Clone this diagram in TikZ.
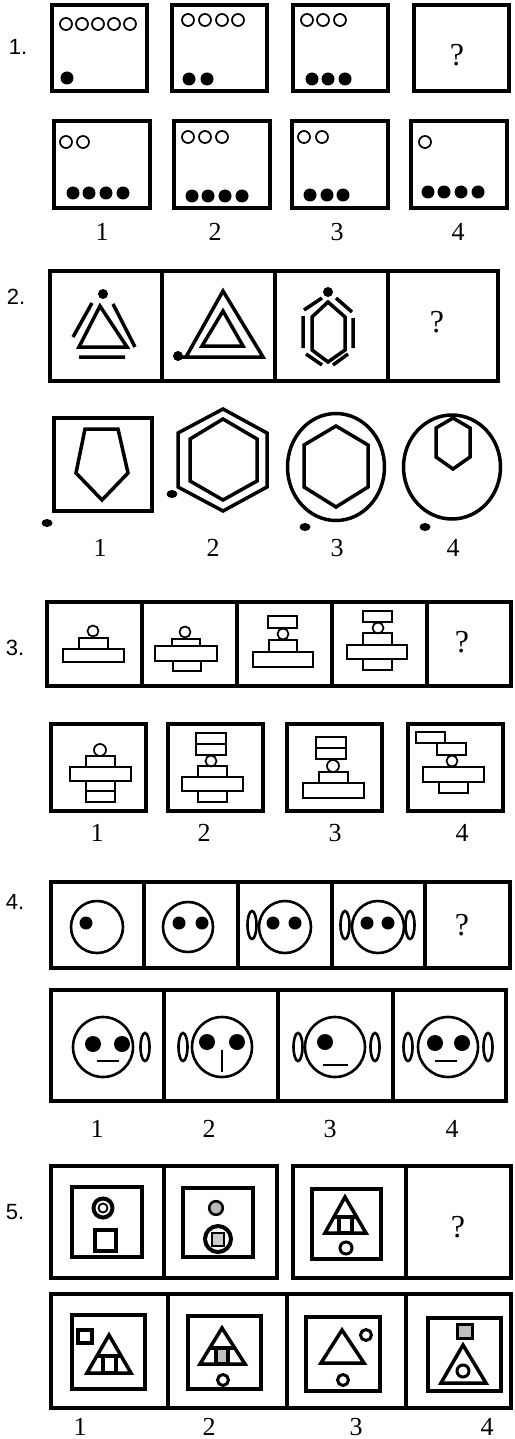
\documentclass[tikz,border=0pt]{standalone}
\usepackage{fontspec}
\setmainfont{Liberation Serif}
\newfontfamily\tagfont{Liberation Sans}
\usetikzlibrary{calc}
\newcommand{\ringrow}[2]{\foreach \x in {#1} \draw[ring] (\x,#2) circle (6pt);}
\newcommand{\ballrow}[2]{\foreach \x in {#1} \fill (\x,#2) circle (6.5pt);}
\newcommand{\ear}[1]{\draw[face] #1 ellipse [x radius=4.5pt, y radius=14pt];}

\begin{document}
\begin{tikzpicture}[x=1pt,y=-1pt,line join=miter,
  frame/.style={line width=4.5pt},
  figline/.style={line width=3.5pt},
  thinbox/.style={line width=1.7pt},
  ring/.style={line width=1.7pt},
  face/.style={line width=2.6pt},
  rowtag/.style={font=\tagfont\fontsize{22}{22}\selectfont},
  num/.style={font=\fontsize{26}{26}\selectfont},
  qmark/.style={font=\fontsize{32}{32}\selectfont}]
\useasboundingbox (0,0) rectangle (514,1439);

% --- 1: counting circles
\node[rowtag] (tag1) at (18,47) {1.};
\foreach \x in {52,172,293,414} \draw[frame] (\x,5) rectangle ++(95,86);
\foreach \x in {54,174,292,411} \draw[frame] (\x,121) rectangle ++(96,87);
\ringrow{66,82,98,114,130}{24} \ballrow{67}{78}
\ringrow{188,205,222,238}{20} \ballrow{189,207}{79}
\ringrow{307,323,340}{20} \ballrow{312,328,345}{79}
\node[qmark] (q1) at (457,55) {?};
\ringrow{66,83}{142} \ballrow{73,89,106,123}{193}
\ringrow{188,205,222}{137} \ballrow{192,208,225,242}{196}
\ringrow{304,322}{137} \ballrow{310,327,343}{195}
\ringrow{425}{142} \ballrow{428,444,461,478}{192}
\foreach \n/\x in {1/102,2/215,3/337,4/458} \node[num] (n1\n) at (\x,232) {\n};

% --- 2: polygons and dots
\node[rowtag] (tag2) at (16,297) {2.};
\draw[frame] (50,271) rectangle (498,381);
\foreach \x in {162,275,388} \draw[frame] (\x,271) -- (\x,381);
\fill (103,294) circle (5pt);
\draw[figline] (100,306) -- (127,347) -- (79,347) -- cycle;
\draw[figline] (73,337) -- (92,303) (113,304) -- (135,347) (79,357) -- (125,357);
\fill (178,356) circle (5pt);
\draw[figline] (178,357) -- (263,357) -- (223,291) -- (186,357);
\draw[figline] (223,311) -- (243,346) -- (202,346) -- cycle;
\fill (328,292) circle (5pt);
\draw[figline] (328,302) -- (345,317) -- (345,350) -- (328,362) -- (312,350) -- (312,317) -- cycle;
\draw[figline] (304,310) -- (322,298) (336,298) -- (352,312) (353,318) -- (353,348)
  (348,354) -- (333,365) (322,365) -- (306,354) (303,316) -- (303,348);
\node[qmark] (q2) at (437,322) {?};
\draw[frame] (54,418) rectangle (152,511);
\draw[figline] (85,429) -- (118,429) -- (128,473) -- (102,500) -- (76,473) -- cycle;
\fill (47,523) ellipse [x radius=5.5pt, y radius=4pt];
\draw[figline] (223,409) -- (267,433) -- (267,487) -- (223,511) -- (178,487) -- (178,433) -- cycle;
\draw[figline] (223,419) -- (257,439) -- (257,481) -- (223,500) -- (190,481) -- (190,439) -- cycle;
\fill (172,494) ellipse [x radius=5.5pt, y radius=4pt];
\draw[figline] (336,467) ellipse [x radius=48.5pt, y radius=53.5pt];
\draw[figline] (336,426) -- (368,445) -- (368,487) -- (336,507) -- (304,487) -- (304,445) -- cycle;
\fill (305,527) ellipse [x radius=5.5pt, y radius=4pt];
\draw[figline] (452,467) ellipse [x radius=48.5pt, y radius=52pt];
\draw[figline] (453,418) -- (470,428) -- (470,457) -- (453,469) -- (436,457) -- (436,428) -- cycle;
\fill (425,527) ellipse [x radius=5.5pt, y radius=4pt];
\foreach \n/\x in {1/100,2/213,3/337,4/453} \node[num] (n2\n) at (\x,548) {\n};

% --- 3: stacked blocks
\node[rowtag] (tag3) at (15,648) {3.};
\draw[frame] (47,602) rectangle (511,686);
\foreach \x in {142,237,332,427} \draw[frame] (\x,602) -- (\x,686);
\draw[thinbox] (93,631) circle (5.5pt) (79,638) rectangle (108,649) (63,649) rectangle (124,662);
\draw[thinbox] (185,632) circle (5.5pt) (172,639) rectangle (200,646) (155,646) rectangle (217,661)
  (173,661) rectangle (201,671);
\draw[thinbox] (268,616) rectangle (297,628) (283,634) circle (5.5pt) (269,640) rectangle (297,652)
  (253,652) rectangle (313,667);
\draw[thinbox] (363,611) rectangle (392,622) (378,628) circle (5.5pt) (363,633) rectangle (392,645)
  (347,645) rectangle (407,659) (363,659) rectangle (392,670);
\node[qmark] (q3) at (462,642) {?};
\foreach \x in {51,168,287,408} \draw[frame] (\x,724) rectangle ++(95,87);
\draw[thinbox] (100,750) circle (6pt) (86,756) rectangle (115,767) (70,767) rectangle (131,781)
  (86,781) rectangle (115,791) (86,791) rectangle (115,802);
\draw[thinbox] (196,733) rectangle (226,744) (196,744) rectangle (226,755) (211,761) circle (5.5pt)
  (198,766) rectangle (227,777) (182,777) rectangle (243,791) (198,791) rectangle (227,802);
\draw[thinbox] (316,737) rectangle (346,748) (316,748) rectangle (346,759) (333,766) circle (6pt)
  (319,772) rectangle (348,783) (303,783) rectangle (364,798);
\draw[thinbox] (416,732) rectangle (445,743) (437,743) rectangle (466,755) (452,761) circle (5.5pt)
  (423,767) rectangle (484,782) (439,782) rectangle (468,793);
\foreach \n/\x in {1/97,2/204,3/335,4/462} \node[num] (n3\n) at (\x,833) {\n};

% --- 4: faces
\node[rowtag] (tag4) at (15,902) {4.};
\draw[frame] (51,882) rectangle (510,968);
\foreach \x in {144,238,332,425} \draw[frame] (\x,882) -- (\x,968);
\draw[face] (97,927) circle (26pt); \fill (86,923) circle (6.5pt);
\draw[face] (188,927) circle (25pt); \ballrow{179,202}{923}
\draw[face] (285,927) circle (26pt); \ballrow{273,295}{923} \ear{(252,925)}
\draw[face] (378,927) circle (26pt); \ballrow{367,388}{923} \ear{(345,925)} \ear{(410,925)}
\node[qmark] (q4) at (462,925) {?};
\draw[frame] (51,990) rectangle (506,1101);
\foreach \x in {164,278,393} \draw[frame] (\x,990) -- (\x,1101);
\draw[face] (103,1047) circle (30pt); \foreach \x in {93,122} \fill (\x,1044) circle (8pt);
\draw[face] (97,1061) -- (119,1061); \ear{(145,1047)}
\draw[face] (222,1047) circle (30pt); \foreach \x in {207,237} \fill (\x,1042) circle (8pt);
\draw[face] (222,1050) -- (222,1072); \ear{(183,1047)}
\draw[face] (335,1047) circle (30pt); \fill (325,1042) circle (8pt);
\draw[face] (323,1065) -- (348,1065); \ear{(298,1047)} \ear{(375,1047)}
\draw[face] (448,1047) circle (30pt); \foreach \x in {435,462} \fill (\x,1043) circle (8pt);
\draw[face] (435,1061) -- (457,1061); \ear{(408,1047)} \ear{(488,1047)}
\foreach \n/\x in {1/97,2/209,3/330,4/452} \node[num] (n4\n) at (\x,1129) {\n};

% --- 5: framed figures
\node[rowtag] (tag5) at (15,1212) {5.};
\draw[frame] (51,1166) rectangle (277,1278); \draw[frame] (164,1166) -- (164,1278);
\draw[frame] (293,1166) rectangle (511,1278); \draw[frame] (406,1166) -- (406,1278);
\draw[figline] (72,1187) rectangle (142,1257);
\draw[line width=4pt] (103,1208) circle (9.5pt); \draw[line width=1.8pt] (103,1208) circle (4.5pt);
\draw[figline] (95,1230) rectangle (116,1251);
\draw[figline] (183,1188) rectangle (253,1257);
\draw[face,fill=gray!55] (216,1208) circle (6.8pt);
\draw[line width=4pt] (218,1239) circle (13pt);
\draw[line width=2.5pt,fill=gray!40] (212,1233) rectangle (224,1246);
\draw[figline] (312,1189) rectangle (381,1259);
\coordinate (a3) at (345,1197); \coordinate (b3) at (325,1233); \coordinate (c3) at (366,1233);
\draw[figline] (a3) -- (b3) -- (c3) -- cycle;
\draw[figline] ($(a3)!.55!(b3)$) -- ($(a3)!.55!(c3)$);
\draw[figline] (339,1217) rectangle (352,1233);
\draw[line width=3pt] (346,1248) circle (6pt);
\node[qmark] (q5) at (458,1227) {?};
\draw[frame] (51,1294) rectangle (511,1408);
\foreach \x in {168,287,406} \draw[frame] (\x,1294) -- (\x,1408);
% option 1
\draw[figline] (72,1315) rectangle (145,1389);
\draw[figline] (78,1330) rectangle (92,1343);
\coordinate (a1) at (109,1335); \coordinate (b1) at (87,1373); \coordinate (c1) at (131,1373);
\draw[figline] (a1) -- (b1) -- (c1) -- cycle;
\draw[figline] ($(a1)!.55!(b1)$) -- ($(a1)!.55!(c1)$);
\draw[figline] (103,1356) rectangle (116,1373);
% option 2
\draw[figline] (188,1316) rectangle (261,1389);
\coordinate (a2) at (222,1328); \coordinate (b2) at (200,1364); \coordinate (c2) at (245,1364);
\draw[figline] (a2) -- (b2) -- (c2) -- cycle;
\draw[figline] ($(a2)!.55!(b2)$) -- ($(a2)!.55!(c2)$);
\draw[figline,fill=gray!50] (216,1348) rectangle (228,1364);
\draw[line width=3pt] (223,1380) circle (5.5pt);
% option 3
\draw[figline] (306,1317) rectangle (380,1391);
\draw[figline] (342,1330) -- (321,1363) -- (364,1363) -- cycle;
\draw[line width=3pt] (366,1335) circle (5.5pt) (343,1380) circle (5.5pt);
% option 4
\draw[figline] (428,1318) rectangle (501,1391);
\draw[line width=3pt,fill=gray!50] (457,1324) rectangle (472,1338);
\draw[figline] (463,1345) -- (441,1383) -- (486,1383) -- cycle;
\draw[line width=3pt] (463,1371) circle (6pt);
\foreach \n/\x in {1/80,2/209,3/356,4/487}
  \node[num,anchor=base,inner sep=1pt] (n5\n) at (\x,1435) {\n};
\end{tikzpicture}
\end{document}
